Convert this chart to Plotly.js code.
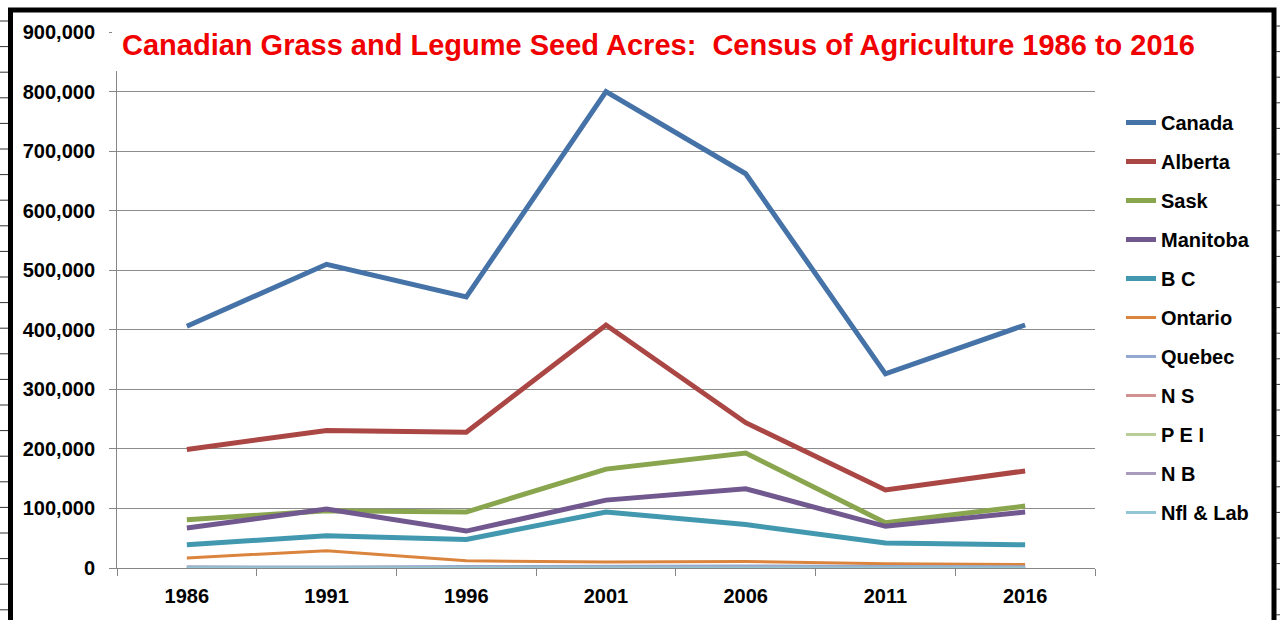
<!DOCTYPE html>
<html>
<head>
<meta charset="utf-8">
<script src="https://cdn.plot.ly/plotly-3.0.1.min.js"></script>
<style>html,body{margin:0;padding:0;background:#fff;}#chart{width:1280px;height:620px;}</style>
</head>
<body>
<div id="chart"></div>
<script>
// ---- data ----
const years = ["1986", "1991", "1996", "2001", "2006", "2011", "2016"];
const canada   = [406000, 510000, 455000, 800000, 662000, 326000, 408000];
const alberta  = [199000, 231000, 228000, 408000, 244000, 131000, 163000];
const sask     = [ 81000,  96000,  94000, 166000, 193000,  76000, 104000];
const manitoba = [ 67000,  99000,  62000, 114000, 133000,  70000,  94000];
const bc       = [ 39000,  54000,  48000,  94000,  73000,  42000,  39000];
const ontario  = [ 17000,  29000,  12000,  10000,  11000,   7000,   6000];
const quebec   = [  2000,   1500,   2500,   3000,   3500,   2500,   2000];
const ns       = [   300,    300,    400,    500,    400,    300,    300];
const pei      = [   500,    400,    600,    700,    600,    500,    400];
const nb       = [   400,    300,    500,    600,    500,    400,    300];
const nfl      = [     0,      0,      0,    100,    100,      0,      0];

const seriesNames = ["Canada", "Alberta", "Sask", "Manitoba", "B C", "Ontario", "Quebec", "N S", "P E I", "N B", "Nfl & Lab"];
const seriesValues = [canada, alberta, sask, manitoba, bc, ontario, quebec, ns, pei, nb, nfl];
const colors = ["#4572A7", "#AA4643", "#89A54E", "#71588F", "#4198AF", "#DB843D", "#93A9CF", "#D19392", "#B9CD96", "#A99BBD", "#92C5D5"];
const widths = [5, 5, 5, 5, 5, 3, 3, 3, 3, 3, 3];

// ---- geometry helpers (plot area in px) ----
const L = 117, R = 1095, T = 32, B = 568;
const px = x => (x - L) / (R - L);
const py = y => (B - y) / (B - T);

const traces = seriesNames.map((n, i) => ({
  type: 'scatter', mode: 'lines', name: n, x: years, y: seriesValues[i],
  legendgroup: 'g' + i,
  line: {color: colors[i], width: widths[i]},
  hoverinfo: 'x+y+name'
}));

const font = {family: '"Liberation Sans", Arial, sans-serif', size: 20, color: '#000', weight: 'bold'};

const shapes = [];
// white cover behind title (hides the top gridline / axis top)
shapes.push({type: 'rect', xref: 'paper', yref: 'paper', x0: px(112), x1: px(1100), y0: py(71), y1: py(20),
  line: {width: 0}, fillcolor: '#fff', layer: 'above'});
// black frame
shapes.push({type: 'rect', xref: 'paper', yref: 'paper', x0: px(10.5), x1: px(1274), y0: py(10), y1: py(660),
  line: {color: '#000', width: 5}, fillcolor: 'rgba(0,0,0,0)', layer: 'above'});
// small marks outside the frame
for (let y = 21; y < 620; y += 25.6) {
  shapes.push({type: 'line', xref: 'paper', yref: 'paper', x0: px(0), x1: px(8), y0: py(y), y1: py(y), line: {color: '#333', width: 1}, layer: 'above'});
}
for (let y = 26; y < 620; y += 25.6) {
  shapes.push({type: 'line', xref: 'paper', yref: 'paper', x0: px(1276), x1: px(1280), y0: py(y), y1: py(y), line: {color: '#333', width: 1}, layer: 'above'});
}

const layout = {
  width: 1280, height: 620,
  margin: {l: L, r: 1280 - R, t: T, b: 620 - B},
  paper_bgcolor: '#fff', plot_bgcolor: '#fff',
  font: font,
  title: {text: 'Canadian Grass and Legume Seed Acres:  Census of Agriculture 1986 to 2016',
    font: {family: '"Liberation Sans", Arial, sans-serif', size: 29, color: '#F00000', weight: 'bold'},
    xref: 'container', yref: 'container', x: 122 / 1280, xanchor: 'left', y: 1 - 45 / 620, yanchor: 'middle'},
  xaxis: {type: 'category', range: [-0.5, 6.5], tickson: 'boundaries', ticks: 'outside', ticklen: 7,
    tickcolor: '#868686', showline: true, linecolor: '#868686', linewidth: 1, showgrid: false, zeroline: false,
    tickfont: font, ticklabelstandoff: 10, fixedrange: true},
  yaxis: {range: [0, 900000], dtick: 100000, tickformat: ',d', ticks: 'outside', ticklen: 7, tickcolor: '#868686',
    showline: true, linecolor: '#868686', linewidth: 1, showgrid: true, gridcolor: '#8C8C8C', gridwidth: 1,
    zeroline: false, tickfont: font, ticklabelstandoff: 10, fixedrange: true},
  legend: {x: px(1121), xanchor: 'left', y: py(103), yanchor: 'top', traceorder: 'grouped', tracegroupgap: 10,
    font: font, bgcolor: 'rgba(0,0,0,0)', borderwidth: 0},
  showlegend: true,
  shapes: shapes
};

Plotly.newPlot('chart', traces, layout, {displayModeBar: false, staticPlot: false});
</script>
</body>
</html>
